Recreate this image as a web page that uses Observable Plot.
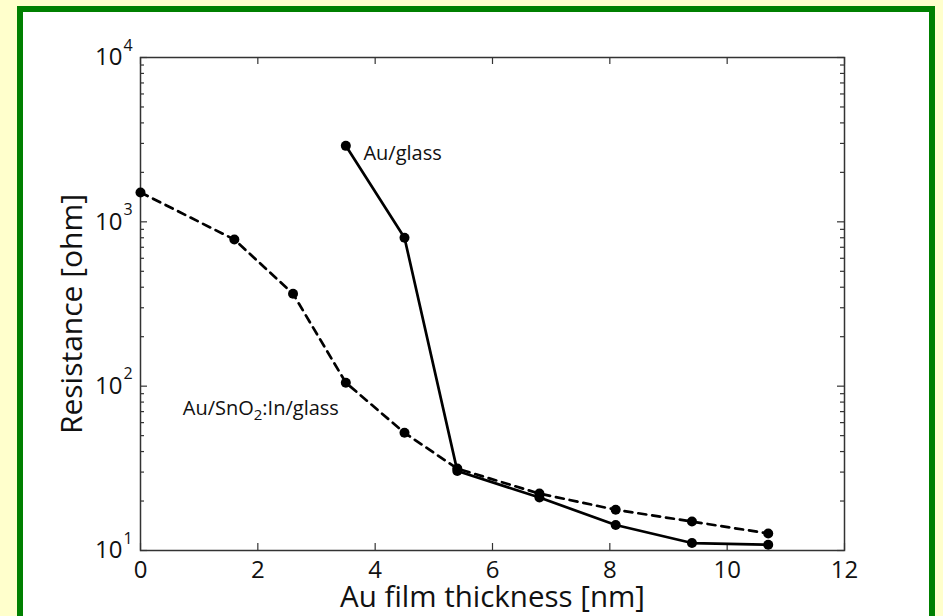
<!DOCTYPE html>
<html>
<head>
<meta charset="utf-8">
<script src="https://cdn.jsdelivr.net/npm/d3@7"></script>
<script src="https://cdn.jsdelivr.net/npm/@observablehq/plot@0.6"></script>
<style>
  html, body { margin: 0; padding: 0; overflow: hidden; width: 943px; height: 616px; background: #FFFFCC; }
  #frame { position: absolute; left: 17px; top: 6px; width: 906px; height: 700px; border: 6px solid #008000; background: #ffffff; }
  #chart { position: absolute; left: 0; top: 0; }
  #chart svg { background: transparent; }
</style>
</head>
<body>
<div id="frame"></div>
<div id="chart"></div>
<script>
// ---- data ----
const xTicks = [0, 2, 4, 6, 8, 10, 12];
const yMajor = [10, 100, 1000, 10000];
const yExponents = ["1", "2", "3", "4"];
const yMinor = [20, 30, 40, 50, 60, 70, 80, 90,
                200, 300, 400, 500, 600, 700, 800, 900,
                2000, 3000, 4000, 5000, 6000, 7000, 8000, 9000];

const glassThickness = [3.5, 4.5, 5.4, 6.8, 8.1, 9.4, 10.7];
const glassResistance = [2900, 800, 30.5, 21, 14.3, 11.1, 10.85];

const snoThickness = [0, 1.6, 2.6, 3.5, 4.5, 5.4, 6.8, 8.1, 9.4, 10.7];
const snoResistance = [1510, 780, 365, 105, 52, 31.5, 22.2, 17.7, 15.0, 12.7];

const seriesNames = ["Au/glass", "Au/SnO2:In/glass"];
const xLabel = "Au film thickness [nm]";
const yLabel = "Resistance [ohm]";

// ---- build ----
const glass = glassThickness.map((t, i) => ({t, r: glassResistance[i]}));
const sno = snoThickness.map((t, i) => ({t, r: snoResistance[i]}));

const W = 943, H = 616;
const mL = 140, mR = 99, mT = 57, mB = 66;
const pw = W - mL - mR, ph = H - mT - mB;
const font = "'Open Sans', 'DejaVu Sans', sans-serif";
const axisColor = "#333333";

const chart = Plot.plot({
  width: W,
  height: H,
  marginLeft: mL,
  marginRight: mR,
  marginTop: mT,
  marginBottom: mB,
  style: {fontFamily: font, background: "transparent", overflow: "visible"},
  x: {domain: [0, 12], axis: null},
  y: {type: "log", domain: [10, 10000], axis: null},
  marks: [
    // ticks (inward)
    Plot.tickX(xTicks, {x: d => d, insetTop: ph - 7, stroke: axisColor, strokeWidth: 1.2}),
    Plot.tickX(xTicks, {x: d => d, insetBottom: ph - 7, stroke: axisColor, strokeWidth: 1.2}),
    Plot.tickY(yMajor, {y: d => d, insetRight: pw - 7, stroke: axisColor, strokeWidth: 1.2}),
    Plot.tickY(yMajor, {y: d => d, insetLeft: pw - 7, stroke: axisColor, strokeWidth: 1.2}),
    Plot.tickY(yMinor, {y: d => d, insetRight: pw - 4, stroke: axisColor, strokeWidth: 1.2}),
    Plot.tickY(yMinor, {y: d => d, insetLeft: pw - 4, stroke: axisColor, strokeWidth: 1.2}),
    Plot.frame({stroke: axisColor, strokeWidth: 1.5}),
    // tick labels
    Plot.text(xTicks, {x: d => d, text: d => String(d), frameAnchor: "bottom", dy: 20, textAnchor: "middle", lineAnchor: "middle", fontSize: 24, fill: "#111"}),
    Plot.text(yMajor, {y: d => d, text: () => "10", frameAnchor: "left", dx: -18, textAnchor: "end", lineAnchor: "middle", fontSize: 24, fill: "#111"}),
    Plot.text(yMajor, {y: d => d, text: (d, i) => yExponents[i], frameAnchor: "left", dx: -17, dy: -12, textAnchor: "start", lineAnchor: "middle", fontSize: 16, fill: "#111"}),
    // axis titles
    Plot.text([xLabel], {text: d => d, frameAnchor: "bottom", dy: 47, textAnchor: "middle", lineAnchor: "middle", fontSize: 29.5, fill: "#111"}),
    Plot.text([yLabel], {text: d => d, frameAnchor: "left", dx: -68, dy: 10, rotate: -90, textAnchor: "middle", lineAnchor: "middle", fontSize: 30, fill: "#111"}),
    // series
    Plot.line(sno, {x: "t", y: "r", stroke: "#000", strokeWidth: 2.7, strokeDasharray: "8,6"}),
    Plot.line(glass, {x: "t", y: "r", stroke: "#000", strokeWidth: 2.7}),
    Plot.dot(sno, {x: "t", y: "r", r: 5, fill: "#000"}),
    Plot.dot(glass, {x: "t", y: "r", r: 5, fill: "#000"}),
    // series labels
    Plot.text([seriesNames[0]], {text: d => d, x: () => 3.8, y: () => 2600, textAnchor: "start", lineAnchor: "middle", fontSize: 20, fill: "#111"}),
    Plot.text([seriesNames[1]], {text: d => d, x: () => 0.72, y: () => 73, textAnchor: "start", lineAnchor: "middle", fontSize: 20, fill: "#111"})
  ]
});

document.getElementById("chart").appendChild(chart);

// subscript for SnO2
d3.select(chart).selectAll("text").filter(function() { return this.textContent === "Au/SnO2:In/glass"; })
  .each(function() {
    const t = d3.select(this);
    t.text(null);
    t.append("tspan").text("Au/SnO");
    t.append("tspan").attr("font-size", 15).attr("dy", 5).text("2");
    t.append("tspan").attr("dy", -5).text(":In/glass");
  });
</script>
</body>
</html>
